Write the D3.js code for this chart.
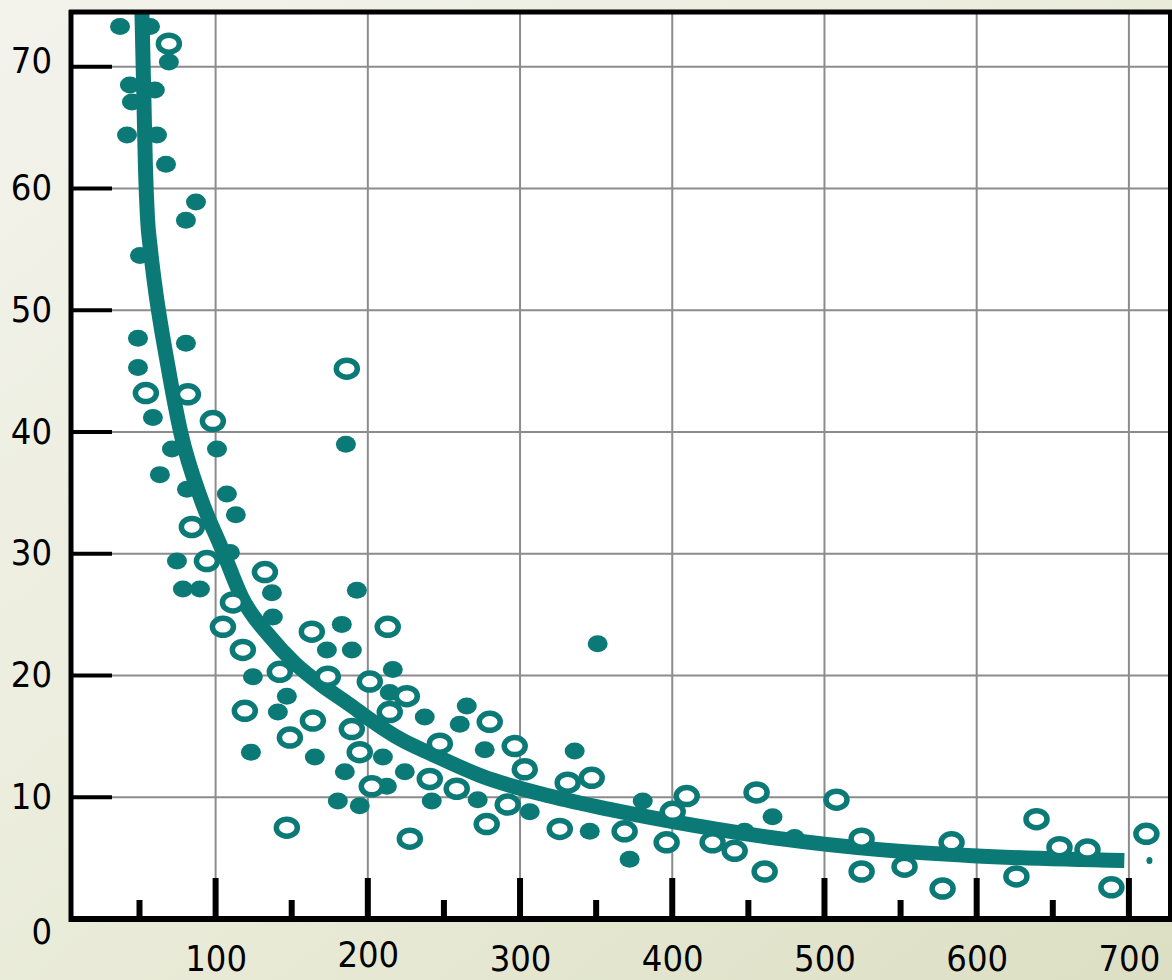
<!DOCTYPE html>
<html><head><meta charset="utf-8">
<script src="https://cdn.jsdelivr.net/npm/d3@7"></script>
<style>html,body{margin:0;padding:0;overflow:hidden;background:#eceedd}svg{display:block}</style>
</head><body>
<svg id="chart" width="1172" height="980"></svg>
<script>
// ---- data ----
const xTickValues = [100, 200, 300, 400, 500, 600, 700];
const xMinorTicks = [50, 150, 250, 350, 450, 550, 650];
const yTickValues = [0, 10, 20, 30, 40, 50, 60, 70];

const filledPoints = [
  [37.2,73.3],[56.9,73.3],[69.3,70.4],[43.7,68.5],[60.1,68.1],[45.0,67.1],[41.8,64.4],[61.5,64.4],
  [67.4,62.0],[87.1,58.9],[80.5,57.4],[50.3,54.5],[49.0,47.7],[80.5,47.3],[49.0,45.3],[58.8,41.2],
  [185.6,39.0],[71.3,38.6],[100.9,38.6],[63.4,36.5],[81.2,35.3],[107.4,34.9],[113.3,33.2],[109.4,30.1],
  [74.6,29.4],[78.5,27.1],[89.7,27.1],[137.0,26.8],[192.8,27.0],[137.6,24.8],[182.9,24.2],[173.1,22.1],
  [189.5,22.1],[351.0,22.6],[124.5,19.9],[216.4,20.5],[146.8,18.3],[214.4,18.6],[140.9,17.0],[237.4,16.6],
  [265.0,17.5],[260.4,16.0],[276.8,13.9],[123.2,13.7],[165.2,13.3],[209.9,13.3],[184.9,12.1],[224.3,12.1],
  [212.5,10.9],[180.3,9.7],[194.7,9.3],[242.0,9.7],[272.2,9.8],[306.4,8.8],[335.9,13.8],[380.6,9.7],
  [465.9,8.4],[345.8,7.2],[372.0,4.9],[447.5,7.2],[480.4,6.7]
];
const tinyPoints = [[713.5,4.8]];

const openPoints = [
  [69.3,71.9],[54.2,43.2],[81.8,43.1],[98.2,40.9],[186.2,45.2],[84.4,32.2],[94.3,29.4],[132.4,28.5],
  [111.4,26.0],[104.8,24.0],[163.2,23.6],[117.9,22.1],[213.1,24.0],[142.2,20.3],[173.7,19.9],[201.3,19.5],
  [225.6,18.3],[119.2,17.1],[163.9,16.3],[214.4,17.0],[280.1,16.2],[189.5,15.6],[148.8,14.9],[247.3,14.4],
  [296.5,14.2],[194.7,13.7],[303.1,12.3],[240.7,11.5],[202.6,10.9],[258.4,10.7],[291.9,9.4],[146.8,7.5],
  [278.1,7.8],[227.6,6.6],[331.3,11.2],[347.1,11.6],[409.5,10.1],[455.4,10.4],[507.9,9.8],[400.3,8.8],
  [326.1,7.4],[368.7,7.2],[396.3,6.3],[426.5,6.3],[441.0,5.6],[460.7,3.9],[524.4,6.6],[524.4,3.9],
  [552.6,4.3],[577.6,2.5],[583.5,6.3],[639.3,8.2],[626.1,3.5],[654.4,5.9],[672.8,5.7],[688.5,2.6],
  [711.5,7.0]
];

const fitCurve = [
  [51.6,74.5],[52.9,67.3],[53.9,61.8],[55.2,57.7],[57.2,55.0],[59.8,52.3],[68.7,45.4],[77.2,39.9],
  [90.4,34.5],[104.8,30.2],[117.3,26.4],[135.7,23.2],[152.1,21.0],[169.8,19.2],[188.2,17.6],[201.3,16.4],
  [221.0,14.8],[242.7,13.5],[275.5,11.7],[319.5,10.1],[358.9,9.0],[400.3,8.0],[470.5,6.6],[536.2,5.7],
  [597.2,5.2],[697.0,4.8]
];

// ---- drawing ----
const teal = "#0b7a76";
const svg = d3.select("#chart");
const L = 71, R = 1170, T = 12, B = 919;
const x = d3.scaleLinear().domain([5, 727]).range([L, R]);
const y = d3.scaleLinear().domain([0, 74.5]).range([B, T]);

const defs = svg.append("defs");
const grad = defs.append("linearGradient").attr("id","bg")
  .attr("x1","0").attr("y1","0").attr("x2","1").attr("y2","1");
grad.append("stop").attr("offset","0").attr("stop-color","#f3f3ec");
grad.append("stop").attr("offset","0.55").attr("stop-color","#e9ebd8");
grad.append("stop").attr("offset","1").attr("stop-color","#dcdfc3");
defs.append("clipPath").attr("id","plotclip").append("rect")
  .attr("x",L).attr("y",T).attr("width",R-L).attr("height",B-T);

svg.append("rect").attr("width",1172).attr("height",980).attr("fill","url(#bg)");
svg.append("rect").attr("x",L).attr("y",T).attr("width",R-L).attr("height",B-T).attr("fill","#fff");

// grid
const grid = svg.append("g").attr("stroke","#8c8c8c").attr("stroke-width",2);
grid.selectAll("line.v").data(xTickValues).join("line").attr("class","v")
  .attr("x1",d=>x(d)).attr("x2",d=>x(d)).attr("y1",T).attr("y2",B);
grid.selectAll("line.h").data(yTickValues.filter(d=>d>0)).join("line").attr("class","h")
  .attr("x1",L).attr("x2",R).attr("y1",d=>y(d)).attr("y2",d=>y(d));

const plot = svg.append("g").attr("clip-path","url(#plotclip)");

// fitted curve
plot.append("path").datum(fitCurve)
  .attr("fill","none").attr("stroke",teal).attr("stroke-width",15).attr("stroke-linecap","butt")
  .attr("d", d3.line().x(d=>x(d[0])).y(d=>y(d[1])).curve(d3.curveMonotoneX));

// filled points
plot.selectAll("ellipse.f").data(filledPoints).join("ellipse").attr("class","f")
  .attr("cx",d=>x(d[0])).attr("cy",d=>y(d[1])).attr("rx",10).attr("ry",8.5).attr("fill",teal);
plot.selectAll("ellipse.t").data(tinyPoints).join("ellipse").attr("class","t")
  .attr("cx",d=>x(d[0])).attr("cy",d=>y(d[1])).attr("rx",3).attr("ry",3.5).attr("fill",teal);
// open points
plot.selectAll("ellipse.o").data(openPoints).join("ellipse").attr("class","o")
  .attr("cx",d=>x(d[0])).attr("cy",d=>y(d[1])).attr("rx",10.5).attr("ry",8.5)
  .attr("fill","#fff").attr("stroke",teal).attr("stroke-width",5.5);

// inner ticks
const ticks = svg.append("g").attr("stroke","#000");
ticks.selectAll("line.yt").data(yTickValues.filter(d=>d>0)).join("line").attr("class","yt")
  .attr("x1",L).attr("x2",112).attr("y1",d=>y(d)).attr("y2",d=>y(d)).attr("stroke-width",4);
ticks.selectAll("line.xM").data(xTickValues).join("line").attr("class","xM")
  .attr("x1",d=>x(d)).attr("x2",d=>x(d)).attr("y1",878).attr("y2",B).attr("stroke-width",6);
ticks.selectAll("line.xm").data(xMinorTicks).join("line").attr("class","xm")
  .attr("x1",d=>x(d)).attr("x2",d=>x(d)).attr("y1",900).attr("y2",B).attr("stroke-width",6);

// frame / axes
svg.append("line").attr("x1",L-2).attr("x2",R+2).attr("y1",T).attr("y2",T).attr("stroke","#000").attr("stroke-width",5);
svg.append("line").attr("x1",R).attr("x2",R).attr("y1",T).attr("y2",B).attr("stroke","#000").attr("stroke-width",4);
svg.append("line").attr("x1",L).attr("x2",L).attr("y1",T-2).attr("y2",B+3).attr("stroke","#000").attr("stroke-width",5);
svg.append("line").attr("x1",L-2).attr("x2",R+2).attr("y1",B).attr("y2",B).attr("stroke","#000").attr("stroke-width",6);

// labels via d3 axes
const font = "'DejaVu Sans Condensed','DejaVu Sans',sans-serif";
const xAxis = svg.append("g").attr("transform",`translate(0,${B})`)
  .call(d3.axisBottom(x).tickValues(xTickValues).tickSize(0).tickPadding(0).tickFormat(d3.format("d")));
xAxis.select(".domain").remove();
xAxis.selectAll("text").attr("font-family",font).attr("font-stretch","condensed")
  .attr("font-size",36).attr("fill","#000").attr("dy",null)
  .attr("y",d=> d===200 ? 48 : 52);

const yAxis = svg.append("g").attr("transform",`translate(${L},0)`)
  .call(d3.axisLeft(y).tickValues(yTickValues).tickSize(0).tickPadding(19).tickFormat(d3.format("d")));
yAxis.select(".domain").remove();
yAxis.selectAll("text").attr("font-family",font).attr("font-stretch","condensed")
  .attr("font-size",36).attr("fill","#000").attr("dy",null)
  .attr("y",d=> d===0 ? 24 : (d===70 ? 6 : 11));
</script>
</body></html>
